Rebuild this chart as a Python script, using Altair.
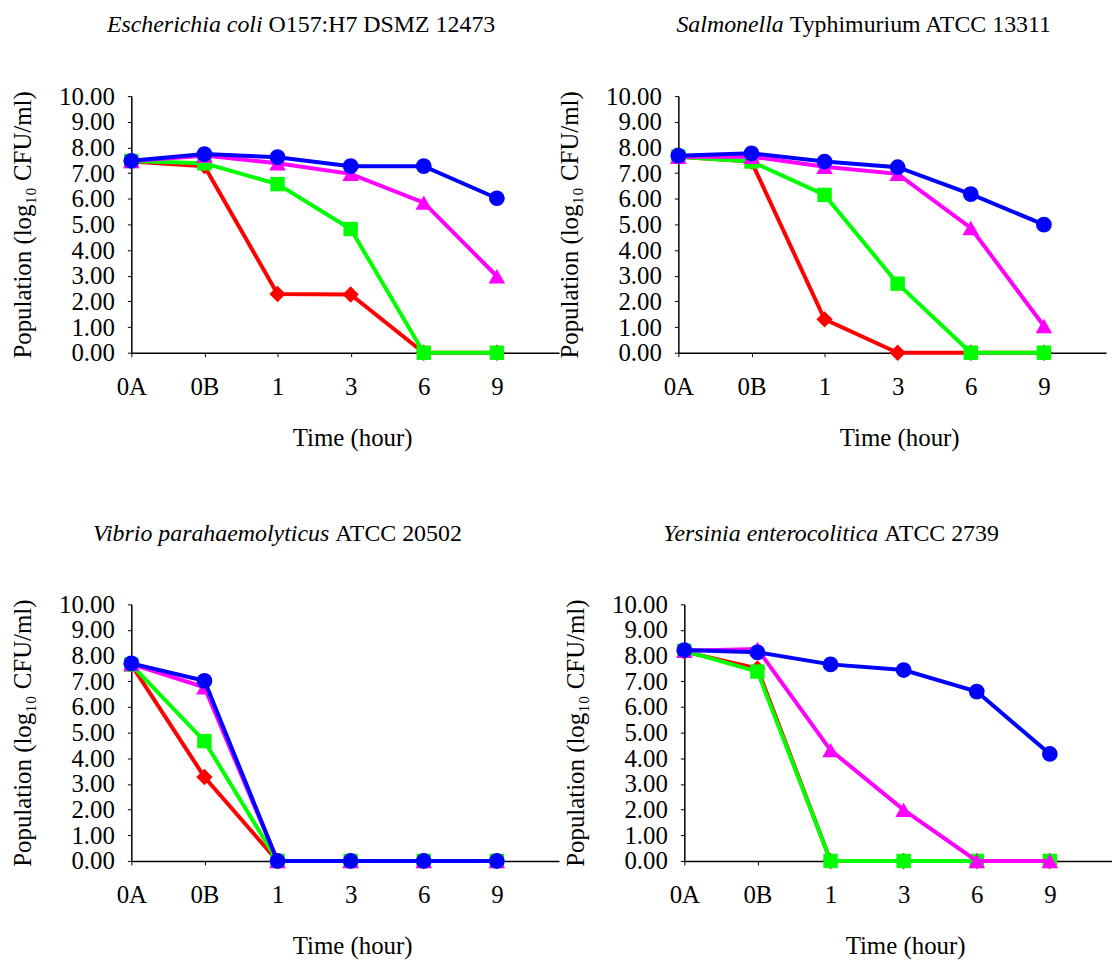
import json
import altair as alt
import pandas as pd

FONT = "Liberation Serif"

# ---------------- data ----------------
times = ["0A", "0B", "1", "3", "6", "9"]
series = ["red", "green", "magenta", "blue"]
colors = ["#ff0000", "#00ff00", "#ff00ff", "#0000ff"]
shapes = ["diamond", "square", "triangle-up", "circle"]

titles_italic = ["Escherichia coli", "Salmonella", "Vibrio parahaemolyticus", "Yersinia enterocolitica"]
titles_roman = ["O157:H7 DSMZ 12473", "Typhimurium ATCC 13311", "ATCC 20502", "ATCC 2739"]

ecoli_red = [7.45, 7.27, 2.29, 2.27, 0.0, 0.0]
ecoli_green = [7.47, 7.38, 6.57, 4.82, 0.0, 0.0]
ecoli_magenta = [7.47, 7.68, 7.38, 6.97, 5.85, 2.98]
ecoli_blue = [7.48, 7.74, 7.62, 7.27, 7.27, 6.02]

salm_red = [7.64, 7.45, 1.30, 0.0, 0.0, 0.0]
salm_green = [7.64, 7.45, 6.15, 2.69, 0.0, 0.0]
salm_magenta = [7.64, 7.64, 7.25, 6.97, 4.86, 1.04]
salm_blue = [7.68, 7.77, 7.45, 7.23, 6.18, 4.99]

vib_red = [7.65, 3.27, 0.0, 0.0, 0.0, 0.0]
vib_green = [7.65, 4.67, 0.0, 0.0, 0.0, 0.0]
vib_magenta = [7.67, 6.77, 0.0, 0.0, 0.0, 0.0]
vib_blue = [7.70, 7.02, 0.0, 0.0, 0.0, 0.0]

yer_red = [8.16, 7.50, 0.0, 0.0, 0.0, 0.0]
yer_green = [8.19, 7.38, 0.0, 0.0, 0.0, 0.0]
yer_magenta = [8.19, 8.26, 4.32, 1.99, 0.0, 0.0]
yer_blue = [8.22, 8.13, 7.66, 7.44, 6.60, 4.17]

panels = [
    [ecoli_red, ecoli_green, ecoli_magenta, ecoli_blue],
    [salm_red, salm_green, salm_magenta, salm_blue],
    [vib_red, vib_green, vib_magenta, vib_blue],
    [yer_red, yer_green, yer_magenta, yer_blue],
]

# ---------------- styling ----------------
W, H = 430, 258
sizes = [270, 210, 280, 250]
title_split = [132, 106, 199, 195]
label_expr = json.dumps(times) + "[datum.value]"


def make_panel(i):
    xenc = alt.X(
        "t:Q",
        scale=alt.Scale(domain=[0, 5.85], nice=False, zero=False),
        axis=alt.Axis(
            values=list(range(len(times))),
            labelExpr=label_expr,
            labelFlush=False,
            labelOverlap=False,
            labelPadding=18,
            tickSize=4,
            title="Time (hour)",
            titleX=222,
            titleY=85,
            titleBaseline="middle",
        ),
    )
    yenc = alt.Y(
        "v:Q",
        scale=alt.Scale(domain=[0, 10], nice=False),
        axis=alt.Axis(
            values=list(range(11)),
            format=".2f",
            labelOverlap=False,
            labelPadding=13,
            tickSize=4,
            title="Population (log₁₀ CFU/ml)",
            titleX=-109,
            titleY=H / 2,
            titleBaseline="middle",
        ),
    )
    layers = []
    for s, c, sh, sz, vals in zip(series, colors, shapes, sizes, panels[i]):
        df = pd.DataFrame({"t": list(range(len(times))), "time": times, "v": vals, "series": s})
        base = alt.Chart(df)
        layers.append(base.mark_line(color=c, strokeWidth=4).encode(x=xenc, y=yenc))
        layers.append(
            base.mark_point(shape=sh, filled=True, color=c, size=sz, opacity=1, strokeWidth=0).encode(x=xenc, y=yenc)
        )
    t1 = alt.Chart(pd.DataFrame({"txt": [titles_italic[i]]})).mark_text(
        font=FONT, fontSize=24, fontStyle="italic", align="right", baseline="middle", color="black"
    ).encode(text="txt:N", x=alt.value(title_split[i]), y=alt.value(-71))
    t2 = alt.Chart(pd.DataFrame({"txt": [titles_roman[i]]})).mark_text(
        font=FONT, fontSize=24, align="left", baseline="middle", color="black"
    ).encode(text="txt:N", x=alt.value(title_split[i] + 6), y=alt.value(-71))
    return alt.layer(*layers, t1, t2).properties(width=W, height=H)


row1 = alt.hconcat(make_panel(0), make_panel(1), spacing=120, bounds="flush")
row2 = alt.hconcat(make_panel(2), make_panel(3), spacing=126, bounds="flush")

chart = (
    alt.vconcat(row1, row2, spacing=72)
    .properties(padding={"left": 2, "top": 3, "right": 0, "bottom": 0}, background="white")
    .configure_view(stroke=None)
    .configure_axis(
        grid=False,
        labelFont=FONT,
        labelFontSize=25,
        labelColor="black",
        titleFont=FONT,
        titleFontSize=25,
        titleFontWeight="normal",
        titleColor="black",
        domainColor="black",
        domainWidth=1.5,
        tickColor="black",
        tickWidth=1,
    )
)

chart.save("out.html", embed_options={"renderer": "svg", "actions": False})
